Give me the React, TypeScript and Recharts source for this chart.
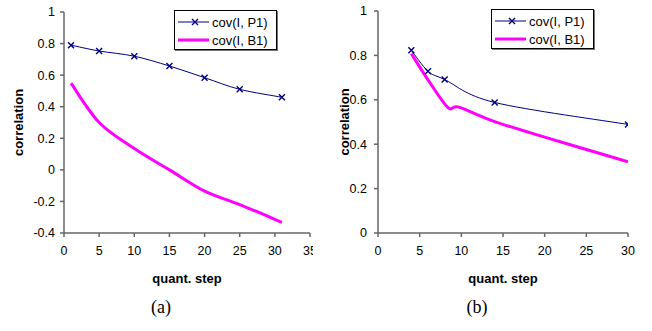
import React from 'react';
import { LineChart, Line, XAxis, YAxis, Legend, Label } from 'recharts';

// (a) values
const stepsA = [1, 5, 10, 15, 20, 25, 31];
const p1A = [0.79, 0.753, 0.72, 0.658, 0.584, 0.51, 0.46];
const b1A = [0.549, 0.3, 0.135, 0.0, -0.135, -0.22, -0.332];
const xTicksA = [0, 5, 10, 15, 20, 25, 30, 35];
const yTicksA = [-0.4, -0.2, 0, 0.2, 0.4, 0.6, 0.8, 1];

// (b) values
const stepsP1B = [4, 6, 8, 14, 30];
const p1B = [0.823, 0.729, 0.691, 0.588, 0.489];
const stepsB1B = [4, 6, 8.4, 9.7, 14, 20, 25, 30];
const b1B = [0.808, 0.69, 0.565, 0.567, 0.502, 0.432, 0.376, 0.321];
const xTicksB = [0, 5, 10, 15, 20, 25, 30];
const yTicksB = [0, 0.2, 0.4, 0.6, 0.8, 1];

const seriesNames = ['cov(I, P1)', 'cov(I, B1)'];

const NAVY = '#000080';
const MAGENTA = '#ff00ff';
const AXIS = '#666666';
const FONT = '"Liberation Sans", Arial, sans-serif';

const toPoints = (xs: number[], ys: number[]) => xs.map((x, i) => ({ x, y: ys[i] }));

// spreadsheet-style smoothed line (bezier through every point, tension 1/6)
const smoothCurve = (context: any) => {
  let pts: number[][] = [];
  return {
    areaStart() {},
    areaEnd() {},
    lineStart() {
      pts = [];
    },
    point(x: number, y: number) {
      pts.push([+x, +y]);
    },
    lineEnd() {
      if (!pts.length) return;
      context.moveTo(pts[0][0], pts[0][1]);
      for (let i = 0; i < pts.length - 1; i++) {
        const p0 = pts[i - 1] || pts[i];
        const p1 = pts[i];
        const p2 = pts[i + 1];
        const p3 = pts[i + 2] || pts[i + 1];
        context.bezierCurveTo(
          p1[0] + (p2[0] - p0[0]) / 6,
          p1[1] + (p2[1] - p0[1]) / 6,
          p2[0] - (p3[0] - p1[0]) / 6,
          p2[1] - (p3[1] - p1[1]) / 6,
          p2[0],
          p2[1]
        );
      }
    },
  };
};

const XMark = (props: any) => {
  const { cx, cy, index } = props;
  if (cx == null || cy == null) return <g key={index} />;
  const r = 3;
  return (
    <path
      key={index}
      d={`M${cx - r},${cy - r}L${cx + r},${cy + r}M${cx - r},${cy + r}L${cx + r},${cy - r}`}
      stroke={NAVY}
      strokeWidth={1.4}
      fill="none"
    />
  );
};

const LegendBox = () => (
  <div
    style={{
      width: 103,
      height: 40,
      boxSizing: 'border-box',
      border: '1px solid #000',
      boxShadow: '1px 1px 0 #777',
      background: '#fff',
      fontFamily: FONT,
      fontSize: 13,
      color: '#000',
      paddingTop: 2,
    }}
  >
    {seriesNames.map((name, i) => (
      <div key={name} style={{ display: 'flex', alignItems: 'center', height: 18 }}>
        <svg width={37} height={18} style={{ flex: 'none' }}>
          {i === 0 ? (
            <>
              <line x1={3} y1={9} x2={34} y2={9} stroke={NAVY} strokeWidth={1} />
              <path d="M17,6L23,12M17,12L23,6" stroke={NAVY} strokeWidth={1.4} />
            </>
          ) : (
            <line x1={3} y1={9} x2={34} y2={9} stroke={MAGENTA} strokeWidth={3} />
          )}
        </svg>
        <span style={{ whiteSpace: 'nowrap' }}>{name}</span>
      </div>
    ))}
  </div>
);

const yLabel = ({ viewBox }: any) => {
  const x = viewBox.x + 18;
  const y = viewBox.y + viewBox.height / 2;
  return (
    <text
      x={x}
      y={y}
      transform={`rotate(-90 ${x} ${y})`}
      textAnchor="middle"
      dominantBaseline="central"
      fontFamily={FONT}
      fontSize={13}
      fontWeight="bold"
      fill="#000"
    >
      correlation
    </text>
  );
};

const xLabel = ({ viewBox }: any) => (
  <text
    x={viewBox.x + viewBox.width / 2}
    y={viewBox.y + 45}
    textAnchor="middle"
    dominantBaseline="central"
    fontFamily={FONT}
    fontSize={13}
    fontWeight="bold"
    fill="#000"
  >
    quant. step
  </text>
);

const tickStyle = { fontFamily: FONT, fontSize: 12.5, fill: '#000' };

interface PanelProps {
  p1: { x: number; y: number }[];
  b1: { x: number; y: number }[];
  xTicks: number[];
  yTicks: number[];
  margin: { top: number; right: number; bottom: number; left: number };
  yWidth: number;
  yTickMargin: number;
  legendLeft: number;
  legendTop: number;
}

function Panel({ p1, b1, xTicks, yTicks, margin, yWidth, yTickMargin, legendLeft, legendTop }: PanelProps) {
  return (
    <LineChart width={326} height={331} margin={margin}>
      <XAxis
        type="number"
        dataKey="x"
        domain={[xTicks[0], xTicks[xTicks.length - 1]]}
        ticks={xTicks}
        interval={0}
        height={30}
        stroke={AXIS}
        strokeWidth={1.5}
        tickSize={4}
        tickMargin={9}
        tick={tickStyle}
        allowDataOverflow
      >
        <Label content={xLabel} />
      </XAxis>
      <YAxis
        type="number"
        domain={[yTicks[0], yTicks[yTicks.length - 1]]}
        ticks={yTicks}
        interval={0}
        width={yWidth}
        stroke={AXIS}
        strokeWidth={1.5}
        tickSize={4}
        tickMargin={yTickMargin}
        tick={tickStyle}
      >
        <Label content={yLabel} />
      </YAxis>
      <Legend
        layout="horizontal"
        verticalAlign="middle"
        align="center"
        content={() => <LegendBox />}
        wrapperStyle={{ left: legendLeft, top: legendTop, width: 103, height: 40 }}
      />
      <Line
        data={p1}
        dataKey="y"
        name={seriesNames[0]}
        type={smoothCurve as any}
        stroke={NAVY}
        strokeWidth={1}
        dot={<XMark />}
        isAnimationActive={false}
      />
      <Line
        data={b1}
        dataKey="y"
        name={seriesNames[1]}
        type={smoothCurve as any}
        stroke={MAGENTA}
        strokeWidth={3}
        dot={false}
        isAnimationActive={false}
      />
    </LineChart>
  );
}

const captionStyle: React.CSSProperties = {
  position: 'absolute',
  top: 297,
  width: 40,
  textAlign: 'center',
  fontFamily: '"Liberation Serif", "Times New Roman", serif',
  fontSize: 18,
  color: '#000',
};

export default function App() {
  return (
    <div style={{ position: 'absolute', left: 0, top: 0, width: 652, height: 331, background: '#fff', overflow: 'hidden' }}>
      <div style={{ position: 'absolute', left: 0, top: 0, width: 313, height: 331, overflow: 'hidden' }}>
        <Panel
          p1={toPoints(stepsA, p1A)}
          b1={toPoints(stepsA, b1A)}
          xTicks={xTicksA}
          yTicks={yTicksA}
          margin={{ top: 12, right: 16, bottom: 68, left: 0 }}
          yWidth={64}
          yTickMargin={5}
          legendLeft={174}
          legendTop={10}
        />
      </div>
      <div style={{ position: 'absolute', left: 326, top: 0, width: 326, height: 331 }}>
        <Panel
          p1={toPoints(stepsP1B, p1B)}
          b1={toPoints(stepsB1B, b1B)}
          xTicks={xTicksB}
          yTicks={yTicksB}
          margin={{ top: 11, right: 24, bottom: 68, left: 0 }}
          yWidth={52}
          yTickMargin={7}
          legendLeft={165}
          legendTop={9}
        />
      </div>
      <div style={{ ...captionStyle, left: 141 }}>(a)</div>
      <div style={{ ...captionStyle, left: 457 }}>(b)</div>
    </div>
  );
}
